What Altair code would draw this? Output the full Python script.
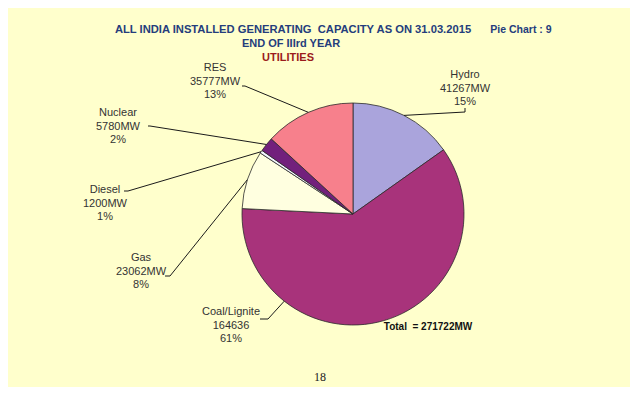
import altair as alt
import pandas as pd

# ---- data ----
categories = ["Hydro", "Coal/Lignite", "Gas", "Diesel", "Nuclear", "RES"]
capacity_mw = [41267, 164636, 23062, 1200, 5780, 35777]
value_text = ["41267MW", "164636", "23062MW", "1200MW", "5780MW", "35777MW"]
percent_text = ["15%", "61%", "8%", "1%", "2%", "13%"]
total_text = "Total \u00a0= 271722MW"

# ---- styling / layout (separate from values) ----
colors = ["#AAA4DC", "#A8337B", "#FFFFE0", "#F4F6FF", "#72207C", "#F7808C"]
OFF = 8  # page margin
CX, CY, R = 353 - OFF, 214 - OFF, 111
# label anchor (center of first line), elbow point and end point of leader, in page px
label_pos = [(465, 75), (231, 312), (141, 258), (105, 190), (118, 113), (215, 68)]
elbow_pos = [(465, 112), (268, 319), (170, 276), (128, 191), (150, 126), (245, 86)]
end_pos = [(465, 108), (260, 319), (165, 276), (124, 191), (148, 126), (242, 86)]
leader_frac = [0.5, 0.75, 0.5, 0.5, 0.5, 0.5]

df = pd.DataFrame({
    "category": categories,
    "value": capacity_mw,
    "order": list(range(len(categories))),
    "label": [f"{c}\n{v}\n{p}" for c, v, p in zip(categories, value_text, percent_text)],
    "lx": [p[0] - OFF for p in label_pos],
    "ly": [p[1] - OFF for p in label_pos],
    "ex": [p[0] - OFF for p in elbow_pos],
    "ey": [p[1] - OFF for p in elbow_pos],
    "tx": [p[0] - OFF for p in end_pos],
    "ty": [p[1] - OFF for p in end_pos],
    "frac": leader_frac,
})

base = alt.Chart(df)

pie = base.mark_arc(outerRadius=R, stroke="#2b2b2b", strokeWidth=0.8).encode(
    theta=alt.Theta("value:Q", stack=True),
    order=alt.Order("order:Q"),
    color=alt.Color("category:N", scale=alt.Scale(domain=categories, range=colors), legend=None),
    x=alt.value(CX),
    y=alt.value(CY),
)

lead = base.transform_joinaggregate(total="sum(value)").transform_window(
    cum="sum(value)", sort=[alt.SortField("order")]
).transform_calculate(
    ang="2*PI*(datum.cum - datum.value*(1-datum.frac))/datum.total",
    ax=f"{CX}+{R}*sin(datum.ang)",
    ay=f"{CY}-{R}*cos(datum.ang)",
)

seg1 = lead.mark_rule(color="#1a1a1a", strokeWidth=1).encode(
    x=alt.X("ax:Q", scale=None), y=alt.Y("ay:Q", scale=None),
    x2="ex:Q", y2="ey:Q",
)
seg2 = base.mark_rule(color="#1a1a1a", strokeWidth=1).encode(
    x=alt.X("ex:Q", scale=None), y=alt.Y("ey:Q", scale=None),
    x2="tx:Q", y2="ty:Q",
)

labels = base.mark_text(
    font="Liberation Sans", fontSize=11, color="#333333", lineBreak="\n",
    lineHeight=13.5, align="center", baseline="middle",
).encode(
    x=alt.X("lx:Q", scale=None), y=alt.Y("ly:Q", scale=None), text="label:N"
)

ann = pd.DataFrame({
    "text": ["ALL INDIA INSTALLED GENERATING \u00a0CAPACITY AS ON 31.03.2015", "Pie Chart : 9",
             "END OF IIIrd YEAR", "UTILITIES", total_text],
    "x": [293 - OFF, 521 - OFF, 291 - OFF, 288 - OFF, 428 - OFF],
    "y": [30 - OFF, 30 - OFF, 44 - OFF, 58 - OFF, 327 - OFF],
    "size": [11.2, 10.5, 11, 11, 10],
    "col": ["#243D7C", "#243D7C", "#243D7C", "#9B1B1B", "#111111"],
})
annot = alt.Chart(ann).mark_text(
    font="Liberation Sans", fontWeight="bold", align="center", baseline="middle"
).encode(
    x=alt.X("x:Q", scale=None), y=alt.Y("y:Q", scale=None), text="text:N",
    size=alt.Size("size:Q", scale=None, legend=None),
    color=alt.Color("col:N", scale=None, legend=None),
)

page = alt.Chart(pd.DataFrame({"text": ["18"], "x": [320 - OFF], "y": [377 - OFF]})).mark_text(
    font="Liberation Serif", fontSize=12, color="#222222", align="center", baseline="middle"
).encode(x=alt.X("x:Q", scale=None), y=alt.Y("y:Q", scale=None), text="text:N")

chart = alt.layer(pie, seg1, seg2, labels, annot, page).properties(
    width=622, height=379, padding=0, autosize="none", background="#FFFFCC"
).configure_view(stroke=None)

chart.save("out.html", embed_options={"renderer": "svg", "actions": False})
